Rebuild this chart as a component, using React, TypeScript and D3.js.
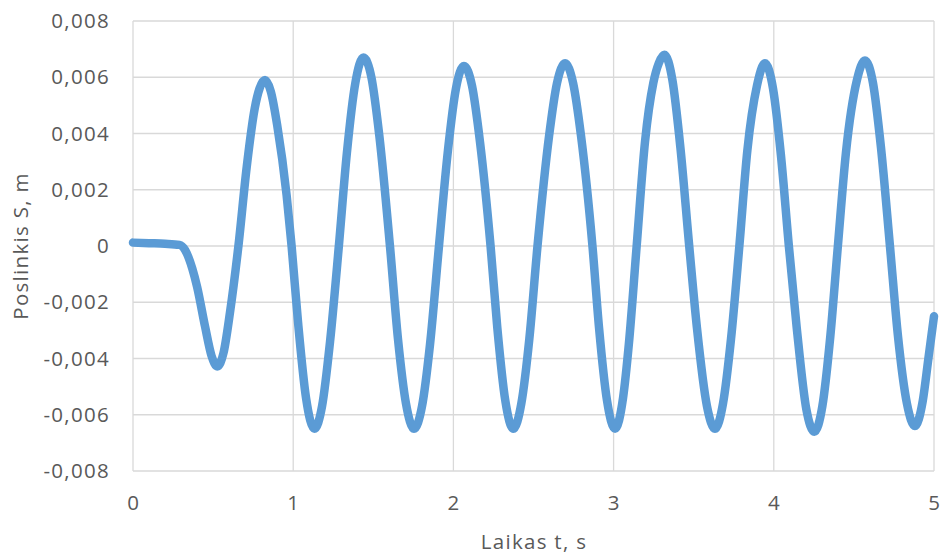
import React from "react";
import * as d3 from "d3";

const timeValues: number[] = [
  0, 0.1, 0.2, 0.29, 0.325, 0.37, 0.4, 0.45, 0.49, 0.526, 0.565, 0.605, 0.658,
  0.71, 0.76, 0.79, 0.824, 0.86, 0.9, 0.959, 0.99,
  1.03, 1.08, 1.132, 1.18, 1.23, 1.285,
  1.335, 1.388, 1.438, 1.488, 1.538, 1.604,
  1.654, 1.704, 1.754, 1.804, 1.854, 1.91,
  1.966, 2.016, 2.066, 2.116, 2.166, 2.232,
  2.274, 2.324, 2.374, 2.424, 2.474, 2.525,
  2.597, 2.647, 2.697, 2.747, 2.797, 2.868,
  2.909, 2.959, 3.009, 3.059, 3.095, 3.144,
  3.196, 3.248, 3.282, 3.317, 3.367, 3.417, 3.472,
  3.52, 3.583, 3.633, 3.683, 3.733, 3.785,
  3.835, 3.895, 3.945, 3.995, 4.045, 4.094,
  4.143, 4.203, 4.253, 4.303, 4.353, 4.4,
  4.45, 4.519, 4.569, 4.619, 4.669, 4.725,
  4.775, 4.831, 4.881, 4.93, 4.965, 5.0,
];

const displacementValues: number[] = [
  0.00012, 0.0001, 0.00008, 0.00004, -0.00014, -0.0008, -0.00145, -0.00287, -0.0039, -0.00428, -0.0038, -0.00238, 0.0,
  0.00282, 0.0049, 0.0056, 0.0059, 0.0055, 0.0043, 0.0018, 0.0,
  -0.0027, -0.0054, -0.0065, -0.0057, -0.0034, 0.0,
  0.0033, 0.0058, 0.0067, 0.006, 0.0039, 0.0,
  -0.0033, -0.0056, -0.0065, -0.0057, -0.0035, 0.0,
  0.0034, 0.0056, 0.0064, 0.0057, 0.0037, 0.0,
  -0.0029, -0.0055, -0.0065, -0.0056, -0.0033, 0.0,
  0.0039, 0.0058, 0.0065, 0.0058, 0.0039, 0.0,
  -0.0029, -0.0055, -0.0065, -0.0054, -0.0035, 0.0,
  0.0037, 0.0058, 0.0065, 0.0068, 0.0059, 0.0035, 0.0,
  -0.0029, -0.0057, -0.0065, -0.0056, -0.0033, 0.0,
  0.0034, 0.0057, 0.0065, 0.0056, 0.0032, 0.0,
  -0.0029, -0.0058, -0.0066, -0.0057, -0.0032, 0.0,
  0.0033, 0.0059, 0.0066, 0.0058, 0.0035, 0.0,
  -0.0032, -0.0056, -0.0064, -0.0055, -0.004, -0.0025,
];

const xTicks: number[] = [0, 1, 2, 3, 4, 5];
const yTicks: number[] = [-0.008, -0.006, -0.004, -0.002, 0, 0.002, 0.004, 0.006, 0.008];

const xTitle = "Laikas t, s";
const yTitle = "Poslinkis S, m";

const W = 942;
const H = 556;
const left = 133;
const right = 934;
const top = 21;
const bottom = 471;

const fmtY = (v: number) => (v === 0 ? "0" : d3.format(".3f")(v).replace("−", "-").replace(".", ","));

export default function App() {
  const x = d3.scaleLinear().domain([0, 5]).range([left, right]);
  const y = d3.scaleLinear().domain([-0.008, 0.008]).range([bottom, top]);
  const pts: [number, number][] = timeValues.map((t, i) => [t, displacementValues[i]]);
  const line = d3
    .line<[number, number]>()
    .x((d) => x(d[0]))
    .y((d) => y(d[1]))
    .curve(d3.curveMonotoneX);

  const font = "'Open Sans', 'Noto Sans', sans-serif";
  const textColor = "#595959";
  const grid = "#D9D9D9";
  const fs = 20.5;
  const ls = 1.3;

  return (
    <svg
      width={W}
      height={H}
      style={{ position: "absolute", left: 0, top: 0, background: "#fff" }}
      fontFamily={font}
    >
      <rect x={0} y={0} width={W} height={H} fill="#fff" />
      {yTicks.map((v) => (
        <line key={"gy" + v} x1={left} x2={right} y1={y(v)} y2={y(v)} stroke={grid} strokeWidth={1.3} />
      ))}
      {xTicks.map((v) => (
        <line key={"gx" + v} x1={x(v)} x2={x(v)} y1={top} y2={bottom} stroke={grid} strokeWidth={1.3} />
      ))}
      <path d={line(pts) || ""} fill="none" stroke="#5B9BD5" strokeWidth={8.5} strokeLinejoin="round" strokeLinecap="round" />
      {yTicks.map((v) => (
        <text key={"ty" + v} x={110} y={y(v)} dy="0.35em" textAnchor="end" fontSize={fs} letterSpacing={ls} fill={textColor}>
          {fmtY(v)}
        </text>
      ))}
      {xTicks.map((v) => (
        <text key={"tx" + v} x={x(v)} y={510} textAnchor="middle" fontSize={fs} fill={textColor}>
          {String(v)}
        </text>
      ))}
      <text x={534} y={549} textAnchor="middle" fontSize={fs} letterSpacing={ls} fill={textColor}>
        {xTitle}
      </text>
      <text
        transform={`translate(28, ${(top + bottom) / 2}) rotate(-90)`}
        textAnchor="middle"
        fontSize={fs}
        letterSpacing={ls}
        fill={textColor}
      >
        {yTitle}
      </text>
    </svg>
  );
}
